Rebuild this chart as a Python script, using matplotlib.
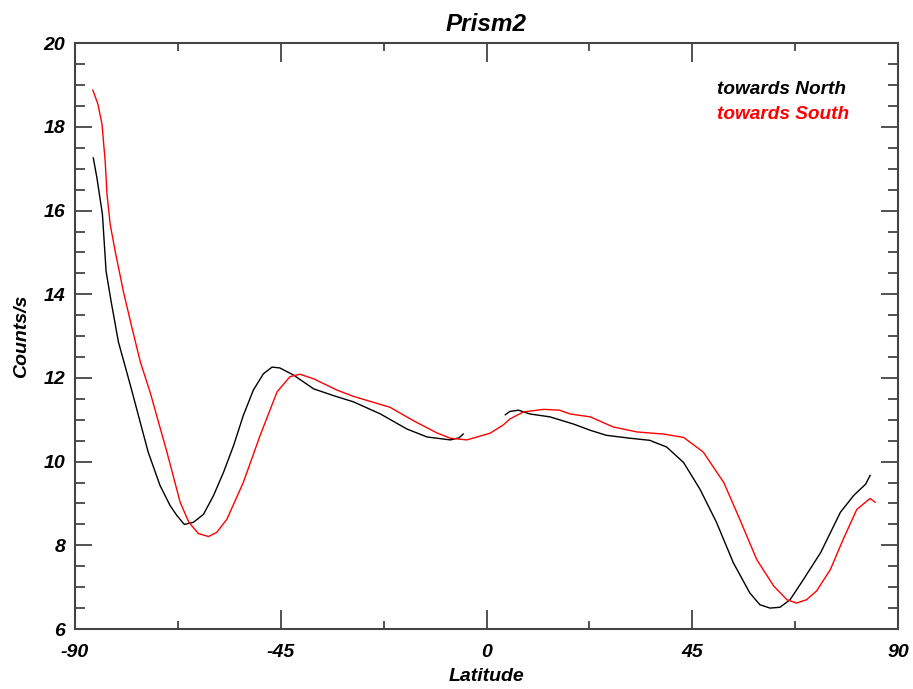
import numpy as np
import matplotlib.pyplot as plt
from matplotlib.ticker import MultipleLocator

# towards North (black), two pieces with a gap around the equator
north_lat1 = [-86.0, -85.2, -84.0, -83.2, -82.1, -80.5, -77.9, -74.0, -71.4, -69.2,
              -67.7, -66.1, -64.1, -61.9, -59.7, -57.5, -55.3, -53.2, -51.0, -48.8,
              -46.9, -45.2, -42.2, -37.8, -33.5, -29.1, -23.2, -17.4, -13.0, -7.9,
              -6.0, -5.1]
north_cnt1 = [17.26, 16.78, 15.91, 14.55, 13.83, 12.86, 11.83, 10.23, 9.43, 8.95,
              8.71, 8.50, 8.55, 8.74, 9.19, 9.75, 10.39, 11.10, 11.71, 12.10,
              12.26, 12.24, 12.07, 11.74, 11.58, 11.43, 11.14, 10.78, 10.59, 10.52,
              10.57, 10.66]
north_lat2 = [4.1, 5.1, 7.0, 9.5, 13.9, 19.0, 22.7, 26.2, 31.4, 35.7,
              39.4, 43.1, 46.7, 50.3, 54.0, 57.6, 59.8, 62.0, 64.2, 66.4,
              69.3, 73.1, 77.4, 80.3, 82.9, 83.9]
north_cnt2 = [11.12, 11.20, 11.23, 11.14, 11.07, 10.90, 10.75, 10.63, 10.56, 10.51,
              10.35, 9.98, 9.34, 8.55, 7.58, 6.86, 6.58, 6.50, 6.52, 6.70,
              7.18, 7.83, 8.79, 9.19, 9.46, 9.67]

# towards South (red)
south_lat = [-86.1, -85.0, -84.1, -83.4, -83.0, -82.3, -81.2, -79.4, -77.5, -75.7,
             -73.6, -69.9, -67.0, -65.1, -63.0, -60.8, -59.0, -56.8, -53.2, -49.5,
             -45.8, -43.0, -40.8, -37.8, -32.7, -29.1, -21.1, -16.0, -10.9, -7.9,
             -4.3, 0.8, 3.7, 5.1, 8.1, 12.5, 16.0, 18.3, 22.7, 27.7,
             32.9, 38.7, 43.1, 47.4, 51.9, 55.4, 59.1, 62.8, 65.7, 67.8,
             70.0, 72.2, 75.2, 78.0, 81.0, 83.9, 85.0]
south_cnt = [18.88, 18.55, 18.07, 17.18, 16.39, 15.67, 15.02, 14.06, 13.18, 12.38,
             11.67, 10.23, 9.03, 8.55, 8.28, 8.21, 8.31, 8.62, 9.50, 10.63,
             11.67, 12.03, 12.09, 11.98, 11.71, 11.56, 11.30, 10.98, 10.69, 10.56,
             10.52, 10.68, 10.88, 11.02, 11.19, 11.25, 11.23, 11.14, 11.07, 10.83,
             10.71, 10.66, 10.58, 10.23, 9.50, 8.62, 7.66, 7.03, 6.70, 6.62,
             6.70, 6.91, 7.42, 8.14, 8.86, 9.12, 9.03]

plt.rcParams['font.family'] = ['Liberation Sans', 'DejaVu Sans']
plt.rcParams['font.weight'] = 'bold'
plt.rcParams['font.style'] = 'italic'
plt.rcParams['axes.unicode_minus'] = False

fig = plt.figure(figsize=(9.13, 6.89), dpi=100)
ax = fig.add_axes([75 / 913, 60 / 689, 823 / 913, 585.7 / 689])

ax.plot(north_lat1, north_cnt1, color='black', lw=1.0)
ax.plot(north_lat2, north_cnt2, color='black', lw=1.0)
ax.plot(south_lat, south_cnt, color='red', lw=1.0)

ax.set_xlim(-90, 90)
ax.set_ylim(6, 20)
ax.xaxis.set_major_locator(MultipleLocator(45))
ax.xaxis.set_minor_locator(MultipleLocator(22.5))
ax.yaxis.set_major_locator(MultipleLocator(2))
ax.yaxis.set_minor_locator(MultipleLocator(0.5))

spine_col = '#444444'
for s in ax.spines.values():
    s.set_color(spine_col)
    s.set_linewidth(1.5)
ax.tick_params(which='both', direction='in', top=True, right=True, color=spine_col,
               width=1.3, labelsize=14)
ax.tick_params(axis='x', which='major', length=14, pad=11)
ax.tick_params(axis='x', which='minor', length=6)
ax.tick_params(axis='y', which='major', length=12, pad=7)
ax.tick_params(axis='y', which='minor', length=7)

ax.set_title('Prism2', fontsize=17.5, fontweight='bold', style='italic', pad=9)
ax.set_xlabel('Latitude', fontsize=14, fontweight='bold', style='italic', labelpad=5)
ax.set_ylabel('Counts/s', fontsize=14, fontweight='bold', style='italic', labelpad=10)

ax.text(0.78, 0.921, 'towards North', transform=ax.transAxes, color='black',
        fontsize=13.7, fontweight='bold', style='italic', va='center', ha='left')
ax.text(0.78, 0.878, 'towards South', transform=ax.transAxes, color='red',
        fontsize=13.7, fontweight='bold', style='italic', va='center', ha='left')

fig.savefig('out.png', dpi=100)
